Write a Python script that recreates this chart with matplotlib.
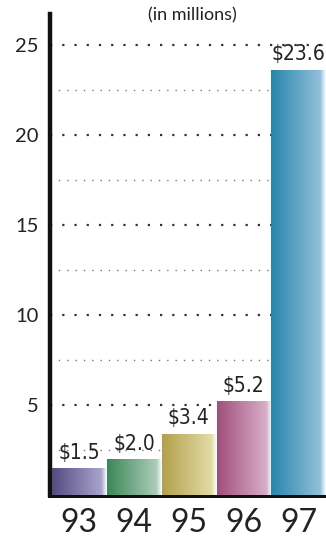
import numpy as np
import matplotlib.pyplot as plt
from matplotlib.colors import LinearSegmentedColormap
from matplotlib import font_manager

years = ['93', '94', '95', '96', '97']
values = [1.5, 2.0, 3.4, 5.2, 23.6]
labels = ['$1.5', '$2.0', '$3.4', '$5.2', '$23.6']
left_colors = ['#564a82', '#3c8658', '#b3a04c', '#a04e7c', '#2686ab']
right_colors = ['#a8a4cc', '#abcdb8', '#e2dba6', '#d9aec7', '#93c0da']
yticks = [5, 10, 15, 20, 25]

# look for a condensed face for the value labels
fonts = font_manager.fontManager.ttflist
cond = [f for f in fonts if f.stretch in ('condensed', 'semi-condensed', 'extra-condensed')
        or 'Narrow' in f.name or 'Condensed' in f.name]
if cond:
    label_font = dict(family=cond[0].name, stretch=cond[0].stretch, fontsize=15)
else:
    label_font = dict(family='Lato', fontsize=14)

plt.rcParams['font.family'] = ['Lato', 'DejaVu Sans']

fig = plt.figure(figsize=(3.26, 5.4), dpi=100)
ax = fig.add_axes([50 / 326, 45 / 540, 276 / 326, 481 / 540])

x = np.arange(len(years))
bars = ax.bar(x, values, width=0.99, color='none', zorder=3)

grad = np.linspace(0, 1, 256).reshape(1, -1)
for bar, c0, c1 in zip(bars, left_colors, right_colors):
    cmap = LinearSegmentedColormap.from_list('g', [(0, c0), (0.9, c1), (1.0, '#ffffff')])
    x0, y0 = bar.get_x(), bar.get_y()
    w, h = bar.get_width(), bar.get_height()
    im = ax.imshow(grad, cmap=cmap, aspect='auto', extent=[x0, x0 + w, y0, y0 + h],
                   zorder=3, interpolation='bilinear')
    im.set_clip_path(bar)

for xi, v, lab in zip(x, values, labels):
    ax.text(xi, v + 0.3, lab, ha='center', va='bottom', color='#222222',
            zorder=4, **label_font)

# dotted grid: major at 5s, minor at 2.5 offsets
for y in yticks:
    ax.axhline(y, color='#333333', linestyle=(0, (1, 4.5)), linewidth=1.6, zorder=1)
for y in np.array(yticks) - 2.5:
    ax.axhline(y, color='#777777', linestyle=(0, (1, 5)), linewidth=1.0, zorder=1)

ax.set_xlim(-0.53, 4.5)
ax.set_ylim(0, 26.7)
ax.set_yticks(yticks)
ax.set_yticklabels([str(t) for t in yticks], fontsize=14.5, color='#222222')
ax.set_xticks(x)
ax.set_xticklabels(years, fontsize=23, color='#222222')
ax.tick_params(axis='both', length=0)
ax.tick_params(axis='y', pad=8)
ax.tick_params(axis='x', pad=9)

for s in ['top', 'right']:
    ax.spines[s].set_visible(False)
ax.spines['left'].set_linewidth(3.2)
ax.spines['bottom'].set_linewidth(3.6)
ax.spines['left'].set_color('#111111')
ax.spines['bottom'].set_color('#111111')

fig.text(192 / 326, 1 - 15 / 540, '(in millions)', ha='center', va='center',
         fontsize=13, color='#222222')

fig.savefig('out.png', dpi=100)
